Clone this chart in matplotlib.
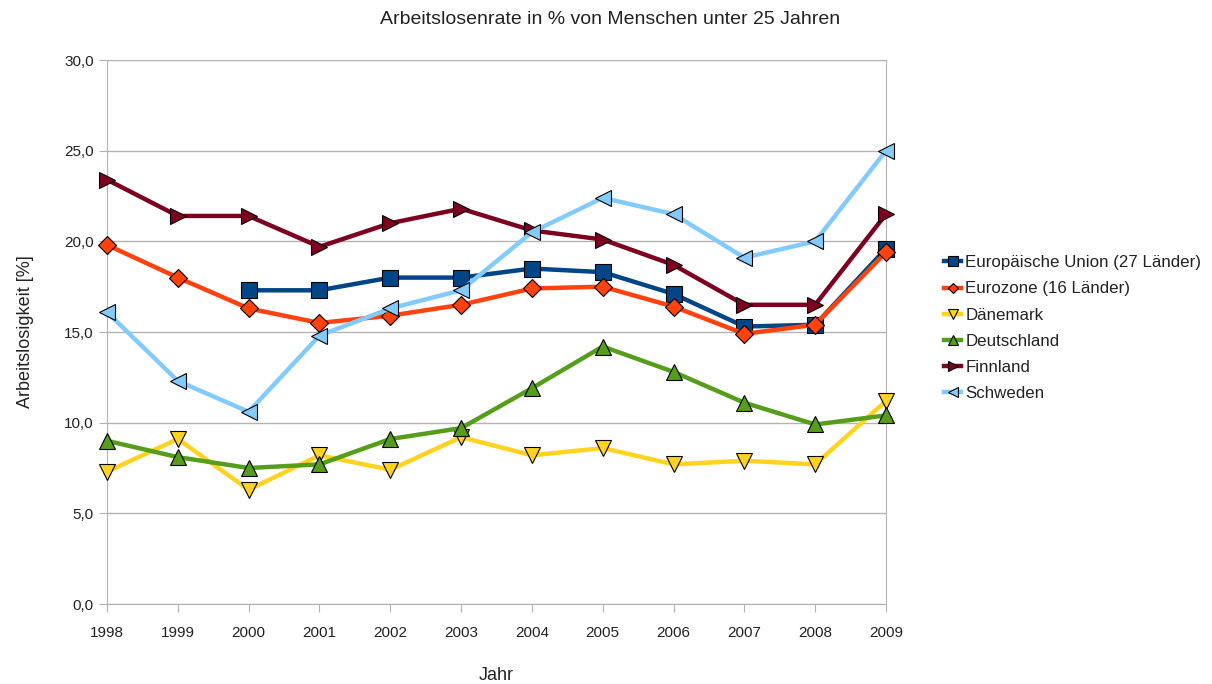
import matplotlib
matplotlib.use("Agg")
import matplotlib.pyplot as plt
import numpy as np
from matplotlib.ticker import FuncFormatter

plt.rcParams['font.family'] = ['Liberation Sans', 'DejaVu Sans']

years = list(range(1998, 2010))
eu27 = [np.nan, np.nan, 17.3, 17.3, 18.0, 18.0, 18.5, 18.3, 17.1, 15.3, 15.4, 19.6]
eurozone = [19.8, 18.0, 16.3, 15.5, 15.9, 16.5, 17.4, 17.5, 16.4, 14.9, 15.4, 19.4]
daenemark = [7.3, 9.1, 6.3, 8.2, 7.4, 9.2, 8.2, 8.6, 7.7, 7.9, 7.7, 11.2]
deutschland = [9.0, 8.1, 7.5, 7.7, 9.1, 9.7, 11.9, 14.2, 12.8, 11.1, 9.9, 10.4]
finnland = [23.4, 21.4, 21.4, 19.7, 21.0, 21.8, 20.6, 20.1, 18.7, 16.5, 16.5, 21.5]
schweden = [16.1, 12.3, 10.6, 14.8, 16.3, 17.3, 20.5, 22.4, 21.5, 19.1, 20.0, 25.0]

series = [
    ("Europäische Union (27 Länder)", eu27, "#004586", "s", 12),
    ("Eurozone (16 Länder)", eurozone, "#ff420e", "D", 9),
    ("Dänemark", daenemark, "#ffd320", "v", 12),
    ("Deutschland", deutschland, "#579d1c", "^", 12),
    ("Finnland", finnland, "#7e0021", ">", 12),
    ("Schweden", schweden, "#83caff", "<", 12),
]

fig = plt.figure(figsize=(12.12, 6.84), dpi=100)
ax = fig.add_axes([107/1212, 1-604/684, (886-107)/1212, (604-60)/684])

for name, vals, col, mk, ms in series:
    ax.plot(years, vals, color=col, lw=3.2, marker=mk, markersize=ms,
            markerfacecolor=col, markeredgecolor="black", markeredgewidth=0.8,
            label=name, clip_on=False, zorder=3)

ax.set_xlim(1998, 2009)
ax.set_ylim(0, 30)
ax.set_xticks(years)
ax.set_yticks(np.arange(0, 31, 5))
ax.yaxis.set_major_formatter(FuncFormatter(lambda v, p: f"{v:.1f}".replace(".", ",")))
ax.grid(axis="y", color="#b3b3b3", lw=1)
ax.set_axisbelow(True)
for s in ax.spines.values():
    s.set_color("#b3b3b3")
ax.tick_params(axis="both", colors="#b3b3b3", labelcolor="#222222", labelsize=11,
               length=6, direction="out")
ax.tick_params(axis="x", pad=10)

ax.set_xlabel("Jahr", fontsize=13, color="#222222", labelpad=19)
ax.set_ylabel("Arbeitslosigkeit [%]", fontsize=13, color="#222222", labelpad=22)
fig.text(0.503, 1-20/684, "Arbeitslosenrate in % von Menschen unter 25 Jahren",
         ha="center", va="center", fontsize=14, color="#222222")

leg = ax.legend(loc="upper left", bbox_to_anchor=(929/1212, 1-240/684),
                bbox_transform=fig.transFigure, frameon=False, fontsize=12.2,
                handlelength=1.0, handletextpad=0.25, labelspacing=0.66,
                markerscale=0.6)
for t in leg.get_texts():
    t.set_color("#222222")

fig.savefig("out.png", dpi=100)
